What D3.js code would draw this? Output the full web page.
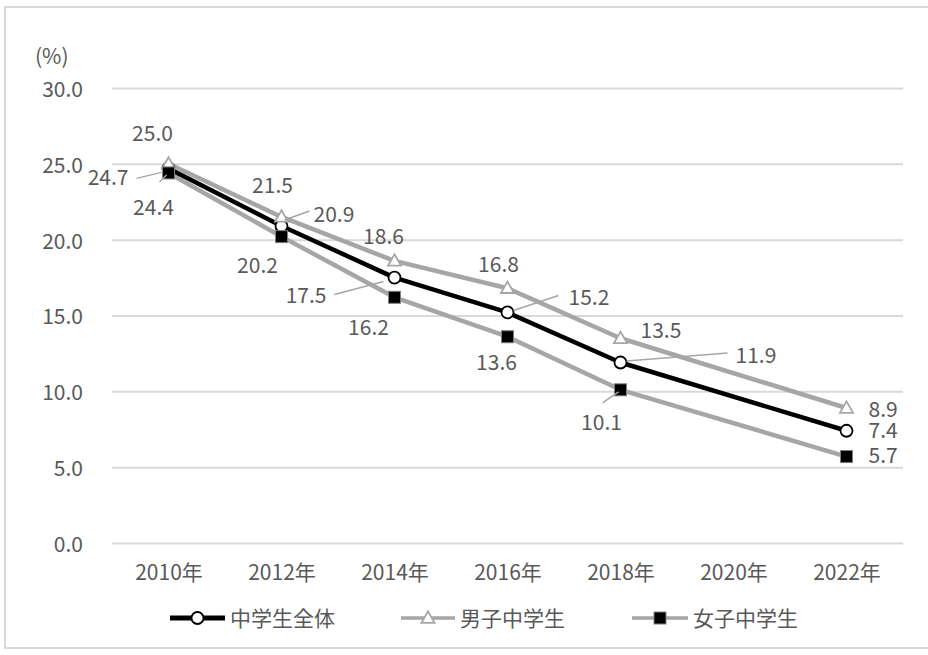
<!DOCTYPE html>
<html>
<head>
<meta charset="utf-8">
<script src="https://cdn.jsdelivr.net/npm/d3@7"></script>
<style>
  body { margin: 0; background: #fff; }
  text { font-family: "Noto Sans CJK JP", "Noto Sans", sans-serif; fill: #595959; }
</style>
</head>
<body>
<div id="chart"></div>
<script>
const years = ["2010年", "2012年", "2014年", "2016年", "2018年", "2020年", "2022年"];
const seriesNames = ["中学生全体", "男子中学生", "女子中学生"];
const allStudents = [24.7, 20.9, 17.5, 15.2, 11.9, null, 7.4];
const boys = [25.0, 21.5, 18.6, 16.8, 13.5, null, 8.9];
const girls = [24.4, 20.2, 16.2, 13.6, 10.1, null, 5.7];
const yTicks = [0, 5, 10, 15, 20, 25, 30];

// label placement relative to each point: [dx, dy, anchor, leader]
const allLabelPos = [
    [-40, 17, "end", [-32, 10, -7, 4]],
    [32, -4, "start", [3, -6, 28, -15]],
    [-68, 25, "end", [-60, 17, -11, 4]],
    [61, -7, "start", [6, -2, 51, -17]],
    [115, 0, "start", [6, -1.5, 107, -9.5]],
    null,
    [22, 7, "start", null]
];
const boysLabelPos = [
    [-16, -23, "middle", null],
    [-9, -24, "middle", null],
    [-11, -17, "middle", null],
    [-9, -16, "middle", null],
    [20, 0, "start", null],
    null,
    [22, 9, "start", null]
];
const girlsLabelPos = [
    [-15, 42, "middle", [-9, 9, -2, 2]],
    [-24, 36, "middle", null],
    [-26, 38, "middle", null],
    [-11, 33, "middle", null],
    [-19, 40, "middle", [-18, 13, -2, 2]],
    null,
    [22, 6.5, "start", null]
];

const W = 928, H = 655;
const plot = { left: 112, right: 903, top: 88, bottom: 543 };

const svg = d3.select("#chart").append("svg")
    .attr("width", W)
    .attr("height", H);

// outer frame
svg.append("rect")
    .attr("x", 5).attr("y", 7)
    .attr("width", 930).attr("height", 641)
    .attr("fill", "#fff")
    .attr("stroke", "#d9d9d9")
    .attr("stroke-width", 2);

const x = d3.scalePoint()
    .domain(years)
    .range([plot.left, plot.right])
    .padding(0.5);

const y = d3.scaleLinear()
    .domain([0, 30])
    .range([plot.bottom, plot.top]);

// y axis with gridlines
const yAxis = svg.append("g")
    .attr("transform", `translate(${plot.left},0)`)
    .call(d3.axisLeft(y)
        .tickValues(yTicks)
        .tickFormat(d3.format(".1f"))
        .tickSize(-(plot.right - plot.left))
        .tickPadding(29));
yAxis.select(".domain").remove();
yAxis.selectAll(".tick line")
    .attr("stroke", "#d9d9d9")
    .attr("stroke-width", 2);
yAxis.selectAll(".tick text")
    .attr("font-size", 21)
    .attr("dy", "0.4em")
    .style("fill", "#595959");

svg.append("text")
    .attr("x", 35).attr("y", 64)
    .attr("font-size", 21)
    .text("(%)");

// x axis
const xAxis = svg.append("g")
    .attr("transform", `translate(0,${plot.bottom})`)
    .call(d3.axisBottom(x).tickSize(0).tickPadding(22));
xAxis.select(".domain").remove();
xAxis.selectAll(".tick text")
    .attr("font-size", 21)
    .style("fill", "#595959");

const series = [
    { name: seriesNames[0], values: allStudents, labels: allLabelPos, stroke: "#000000", marker: "circle" },
    { name: seriesNames[1], values: boys, labels: boysLabelPos, stroke: "#a6a6a6", marker: "triangle" },
    { name: seriesNames[2], values: girls, labels: girlsLabelPos, stroke: "#a6a6a6", marker: "square" }
];

const line = d3.line()
    .x(d => x(d.year))
    .y(d => y(d.value));

function points(s) {
    return s.values.map((v, i) => ({ year: years[i], value: v, label: s.labels[i] }))
        .filter(d => d.value != null);
}

// lines: gray ones under the black one
[series[1], series[2], series[0]].forEach(s => {
    svg.append("path")
        .datum(points(s))
        .attr("fill", "none")
        .attr("stroke", s.stroke)
        .attr("stroke-width", 4.5)
        .attr("stroke-linejoin", "round")
        .attr("d", line);
});

function drawMarker(g, type, cx, cy) {
    if (type === "circle") {
        g.append("circle")
            .attr("cx", cx).attr("cy", cy).attr("r", 6)
            .attr("fill", "#fff").attr("stroke", "#000").attr("stroke-width", 1.8);
    } else if (type === "triangle") {
        g.append("path")
            .attr("d", d3.symbol(d3.symbolTriangle, 75)())
            .attr("transform", `translate(${cx},${cy + 1})`)
            .attr("fill", "#fff").attr("stroke", "#a6a6a6").attr("stroke-width", 1.8);
    } else {
        g.append("rect")
            .attr("x", cx - 6).attr("y", cy - 6)
            .attr("width", 12).attr("height", 12)
            .attr("fill", "#000").attr("stroke", "#7f7f7f").attr("stroke-width", 1);
    }
}

const markers = svg.append("g");
series.forEach(s => {
    points(s).forEach(d => drawMarker(markers, s.marker, x(d.year), y(d.value)));
});

// data labels
const labels = svg.append("g");
series.forEach(s => {
    points(s).forEach(d => {
        const px = x(d.year), py = y(d.value);
        const [dx, dy, anchor, leader] = d.label;
        if (leader) {
            labels.append("line")
                .attr("x1", px + leader[0]).attr("y1", py + leader[1])
                .attr("x2", px + leader[2]).attr("y2", py + leader[3])
                .attr("stroke", "#a6a6a6")
                .attr("stroke-width", 1.5);
        }
        labels.append("text")
            .attr("x", px + dx)
            .attr("y", py + dy)
            .attr("text-anchor", anchor)
            .attr("font-size", 21)
            .text(d3.format(".1f")(d.value));
    });
});

// legend
const legendPos = [[170, 225], [401, 455], [632, 688]];
const legendY = 618;
series.forEach((s, i) => {
    const [x1, x2] = legendPos[i];
    const g = svg.append("g");
    g.append("line")
        .attr("x1", x1).attr("x2", x2)
        .attr("y1", legendY).attr("y2", legendY)
        .attr("stroke", s.stroke)
        .attr("stroke-width", i === 0 ? 5 : 3.5);
    drawMarker(g, s.marker, (x1 + x2) / 2, legendY);
    g.append("text")
        .attr("x", x2 + 5)
        .attr("y", legendY + 8)
        .attr("font-size", 21)
        .text(s.name);
});
</script>
</body>
</html>
